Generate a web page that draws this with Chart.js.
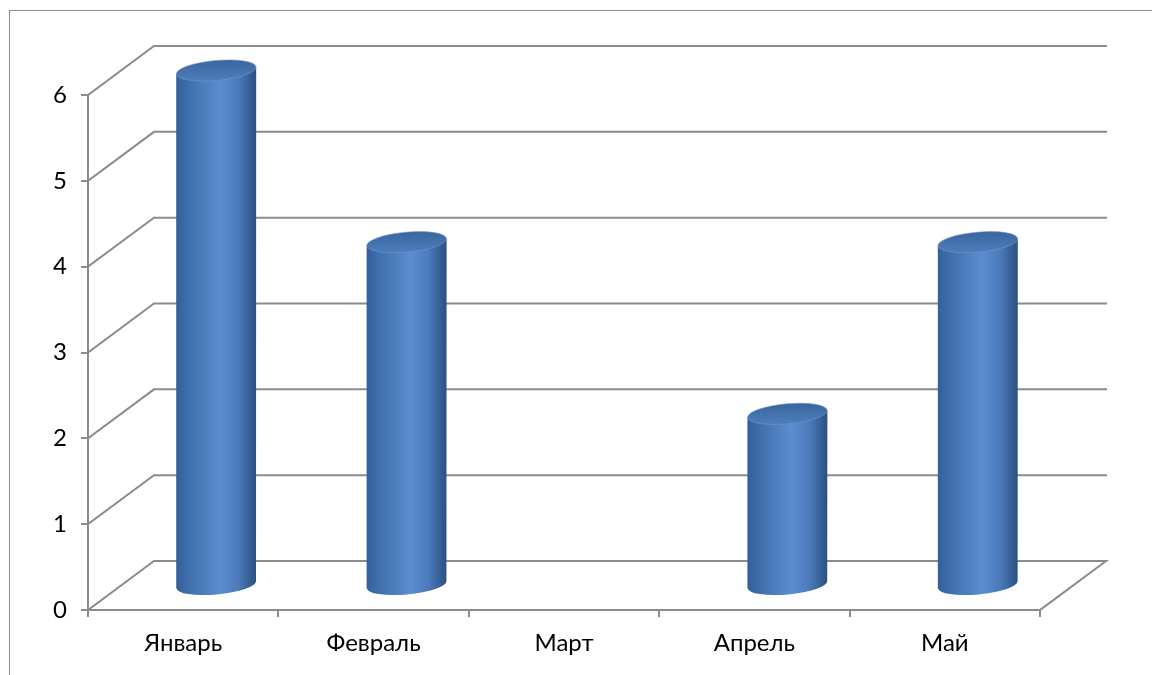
<!DOCTYPE html>
<html>
<head>
<meta charset="utf-8">
<script src="https://cdn.jsdelivr.net/npm/chart.js@4"></script>
<style>
  html, body { margin: 0; padding: 0; background: #fff; }
  #wrap { width: 1152px; height: 675px; position: relative; }
</style>
</head>
<body>
<div id="wrap"><canvas id="chart" width="1152" height="675"></canvas></div>
<script>
const months = ['Январь', 'Февраль', 'Март', 'Апрель', 'Май'];
const values = [6, 4, null, 2, 4];
const yTicks = [0, 1, 2, 3, 4, 5, 6];

const gridColor = '#8c8c8c';
const depthX = 66;
const depthY = 49;

// outer frame + 3d back walls
const wallsPlugin = {
  id: 'walls',
  beforeDraw(chart) {
    const ctx = chart.ctx;
    ctx.save();
    ctx.strokeStyle = '#8c8c8c';
    ctx.lineWidth = 1;
    ctx.strokeRect(9.5, 10.5, 1300, 800);
    ctx.restore();
  },
  beforeDatasetsDraw(chart) {
    const ctx = chart.ctx;
    const { left, right } = chart.chartArea;
    const y = chart.scales.y;
    ctx.save();
    ctx.strokeStyle = gridColor;
    ctx.lineWidth = 2;
    ctx.lineCap = 'square';
    yTicks.forEach(v => {
      const py = y.getPixelForValue(v);
      ctx.beginPath();
      ctx.moveTo(left, py);
      ctx.lineTo(left + depthX, py - depthY);
      ctx.lineTo(right + depthX, py - depthY);
      if (v === 0) ctx.lineTo(right, py);
      ctx.stroke();
    });
    ctx.restore();
  }
};

// cylinders drawn from the bar elements
const cylinderPlugin = {
  id: 'cylinders',
  afterDatasetsDraw(chart) {
    const ctx = chart.ctx;
    const meta = chart.getDatasetMeta(0);
    const rot = -0.09;
    meta.data.forEach((bar, i) => {
      if (values[i] == null) return;
      const cx = bar.x + depthX / 2;
      const rx = bar.width / 2;
      const ry = 10;
      const top = bar.y - depthY / 2;
      const bot = bar.base - depthY / 2;
      const dyr = rx * Math.sin(rot);

      const g = ctx.createLinearGradient(cx - rx, 0, cx + rx, 0);
      g.addColorStop(0, '#33609b');
      g.addColorStop(0.18, '#4171ae');
      g.addColorStop(0.55, '#5a8dd1');
      g.addColorStop(0.78, '#4b7aba');
      g.addColorStop(1, '#2b4f80');

      ctx.save();
      ctx.beginPath();
      ctx.moveTo(cx - rx, top - dyr);
      ctx.lineTo(cx - rx, bot - dyr);
      ctx.ellipse(cx, bot, rx, ry, rot, Math.PI, 0, true);
      ctx.lineTo(cx + rx, top + dyr);
      ctx.closePath();
      ctx.fillStyle = g;
      ctx.fill();

      const tg = ctx.createLinearGradient(0, top - ry, 0, top + ry);
      tg.addColorStop(0, '#3a669f');
      tg.addColorStop(1, '#4c7dbb');
      ctx.beginPath();
      ctx.ellipse(cx, top, rx, ry, rot, 0, Math.PI * 2);
      ctx.fillStyle = tg;
      ctx.fill();
      ctx.strokeStyle = 'rgba(120,150,200,0.6)';
      ctx.lineWidth = 1;
      ctx.stroke();
      ctx.restore();
    });
  }
};

const font = { family: 'Lato', size: 24 };

new Chart(document.getElementById('chart'), {
  type: 'bar',
  data: {
    labels: months,
    datasets: [{
      data: values,
      backgroundColor: 'rgba(0,0,0,0)',
      borderWidth: 0,
      categoryPercentage: 1,
      barPercentage: 0.42
    }]
  },
  options: {
    responsive: false,
    animation: false,
    devicePixelRatio: 1,
    layout: { padding: { top: 95, right: 112, left: 0, bottom: 0 } },
    plugins: { legend: { display: false }, tooltip: { enabled: false } },
    scales: {
      x: {
        offset: true,
        grid: { offset: true, drawOnChartArea: false, drawTicks: true, tickLength: 7, color: gridColor, lineWidth: 2 },
        border: { color: gridColor, width: 2 },
        ticks: { font, color: '#000', padding: 12 },
        afterFit(scale) { scale.height = 65; }
      },
      y: {
        min: 0,
        max: 6,
        grid: { drawOnChartArea: false, drawTicks: true, tickLength: 7, color: gridColor, lineWidth: 2 },
        border: { color: gridColor, width: 2 },
        ticks: { font, color: '#000', stepSize: 1, padding: 14 },
        afterFit(scale) { scale.width = 88; }
      }
    }
  },
  plugins: [wallsPlugin, cylinderPlugin]
});
</script>
</body>
</html>
